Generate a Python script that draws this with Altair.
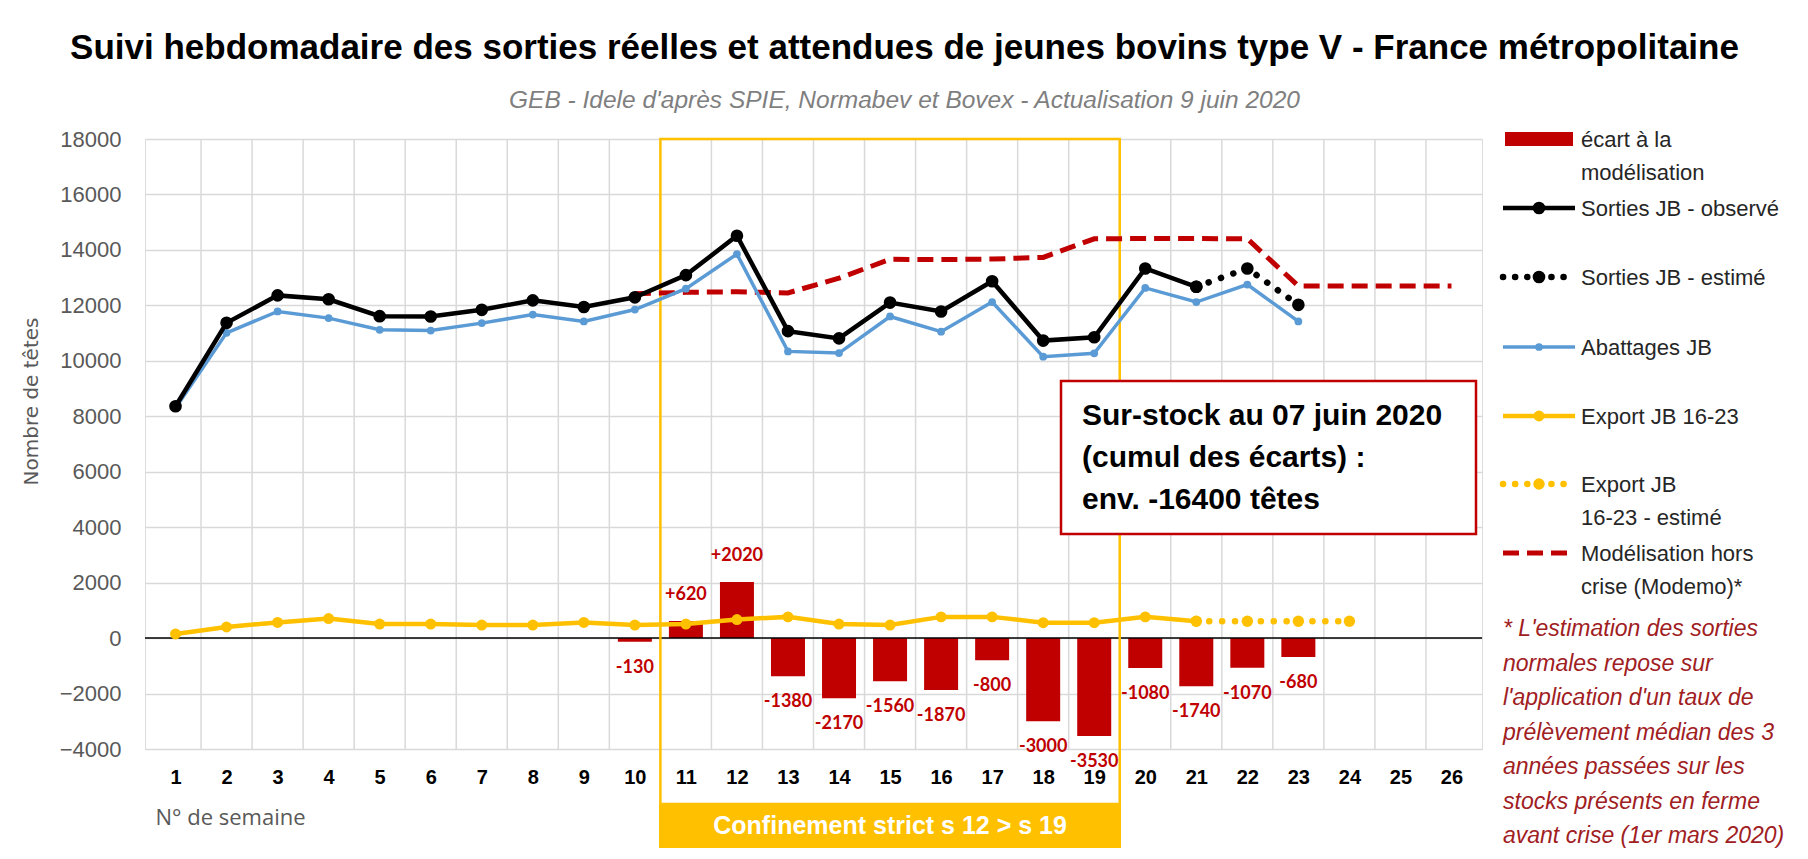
import altair as alt
import pandas as pd

# ---------------- data ----------------
weeks = list(range(1, 27))
y_ticks = list(range(-4000, 18001, 2000))

sorties_obs_weeks = list(range(1, 22))
sorties_obs = [8360, 11370, 12360, 12220, 11610, 11600, 11840, 12180, 11940, 12290,
               13090, 14510, 11070, 10810, 12100, 11780, 12870, 10730, 10850, 13330, 12670]

sorties_est_weeks = [21, 22, 23]
sorties_est = [12670, 13330, 12020]

abattages_weeks = list(range(1, 24))
abattages = [8300, 11010, 11780, 11540, 11120, 11090, 11360, 11670, 11420, 11850,
             12600, 13850, 10340, 10280, 11600, 11050, 12120, 10150, 10270, 12630,
             12120, 12750, 11420]

export_weeks = list(range(1, 22))
export = [150, 400, 565, 705, 505, 505, 470, 470, 565, 470,
          505, 670, 765, 505, 470, 765, 765, 555, 555, 765, 610]

export_est_weeks = [21, 22, 23, 24]
export_est = [610, 610, 610, 610]

modele_weeks = list(range(10, 27))
modele = [12420, 12470, 12490, 12450, 12980, 13660, 13650, 13670, 13730, 14400,
          14410, 14410, 14400, 12700, 12700, 12700, 12700]

ecart_weeks = list(range(10, 24))
ecart = [-130, 620, 2020, -1380, -2170, -1560, -1870, -800, -3000, -3530,
         -1080, -1740, -1070, -680]

lockdown_weeks = [11, 19]

title_text = ("Suivi hebdomadaire des sorties réelles et attendues de jeunes bovins "
              "type V - France métropolitaine")
subtitle_text = "GEB - Idele d'après SPIE, Normabev et Bovex - Actualisation 9 juin 2020"
y_title = "Nombre de têtes"
x_title = "N° de semaine"
legend_labels = ["écart à la\nmodélisation", "Sorties JB - observé", "Sorties JB - estimé",
                 "Abattages JB", "Export JB 16-23", "Export JB\n16-23 - estimé",
                 "Modélisation hors\ncrise (Modemo)*"]
box_text = "Sur-stock au 07 juin 2020\n(cumul des écarts) :\nenv. -16400 têtes"
lockdown_text = "Confinement strict s 12 > s 19"
footnote = ("* L'estimation des sorties\nnormales repose sur\nl'application d'un taux de\n"
            "prélèvement médian des 3\nannées passées sur les\nstocks présents en ferme\n"
            "avant crise (1er mars 2020)")

# ---------------- layout ----------------
W, H = 1337, 610
PAD_L, PAD_T, PAD_R = 137, 131, 318
TOTAL_H = 840
PAD_B = TOTAL_H - PAD_T - H

RED = "#C00000"
YEL = "#FFC000"
BLUE = "#5B9BD5"
GRID = "#D9D9D9"
SANS = "Liberation Sans"

xscale = alt.Scale(domain=[0.5, 26.5], nice=False, zero=False)
yscale = alt.Scale(domain=[-4000, 18000], nice=False, zero=False)

xaxis = alt.Axis(values=weeks, grid=False, domain=False, ticks=False, tickSize=0,
                 labelFont=SANS, labelFontWeight="bold", labelFontSize=20,
                 labelColor="black", labelAngle=0, labelBaseline="middle",
                 labelPadding=28, format="d",
                 title=x_title, titleFont="Open Sans", titleFontSize=22,
                 titleFontWeight="normal", titleColor="#595959",
                 titleX=10, titleY=68, titleAlign="left", titleBaseline="middle")
yaxis = alt.Axis(values=y_ticks, grid=True, gridColor=GRID, gridWidth=1.5,
                 domain=False, ticks=False, tickSize=0,
                 labelFont=SANS, labelFontSize=22, labelColor="#595959",
                 labelPadding=24, format="d",
                 title=y_title, titleFont="DejaVu Sans", titleFontSize=20,
                 titleFontWeight="normal", titleColor="#595959",
                 titleX=-114, titleY=262, titleAngle=270, titleAlign="center",
                 titleBaseline="middle")


def X(field):
    return alt.X(field, type="quantitative", scale=xscale, axis=xaxis)


def Y(field):
    return alt.Y(field, type="quantitative", scale=yscale, axis=yaxis)


one = pd.DataFrame({"k": [0]})

df_grid = pd.DataFrame({"b": [w + 0.5 for w in weeks[:-1]]})
df_ecart = pd.DataFrame({"week": ecart_weeks, "v": ecart,
                         "label": [f"{v:+d}" if v > 0 else str(v) for v in ecart]})
df_sobs = pd.DataFrame({"week": sorties_obs_weeks, "v": sorties_obs})
df_sest = pd.DataFrame({"week": sorties_est_weeks, "v": sorties_est})
df_ab = pd.DataFrame({"week": abattages_weeks, "v": abattages})
df_ex = pd.DataFrame({"week": export_weeks, "v": export})
df_exe = pd.DataFrame({"week": export_est_weeks, "v": export_est})
df_mod = pd.DataFrame({"week": modele_weeks, "v": modele})
df_lock = pd.DataFrame({"start": [lockdown_weeks[0] - 0.5], "end": [lockdown_weeks[1] + 0.5],
                        "mid": [(lockdown_weeks[0] + lockdown_weeks[1]) / 2]})

layers = []

# vertical grid lines at week boundaries
layers.append(alt.Chart(df_grid).mark_rule(color=GRID, strokeWidth=1.5).encode(
    x=X("b"), y=alt.value(0), y2=alt.value(H)))

# bars
layers.append(alt.Chart(df_ecart).mark_bar(size=34, color=RED).encode(
    x=X("week"), y=Y("v"), y2=alt.datum(0)))

# zero line
layers.append(alt.Chart(one).mark_rule(color="black", strokeWidth=1.5).encode(
    y=alt.datum(0)))

# bar labels
lab = dict(font="Lato", fontWeight="bold", fontSize=18, color=RED, baseline="middle")
layers.append(alt.Chart(df_ecart).transform_filter("datum.v > 0").mark_text(dy=-26, **lab).encode(
    x=X("week"), y=Y("v"), text="label:N"))
layers.append(alt.Chart(df_ecart).transform_filter("datum.v <= 0").mark_text(dy=26, **lab).encode(
    x=X("week"), y=Y("v"), text="label:N"))

# lockdown outline
LOCK_BOTTOM = TOTAL_H - PAD_T - 1
layers.append(alt.Chart(df_lock).mark_rect(fillOpacity=0, stroke=YEL, strokeWidth=2.5).encode(
    x=X("start"), x2="end", y=alt.value(0), y2=alt.value(LOCK_BOTTOM)))

# export observed
layers.append(alt.Chart(df_ex).mark_line(color=YEL, strokeWidth=4.5).encode(x=X("week"), y=Y("v")))
layers.append(alt.Chart(df_ex).mark_circle(color=YEL, size=120, opacity=1).encode(x=X("week"), y=Y("v")))
# export estimated
layers.append(alt.Chart(df_exe).mark_line(color=YEL, strokeWidth=6.5, strokeDash=[0.1, 12.8],
                                          strokeCap="round").encode(x=X("week"), y=Y("v")))
layers.append(alt.Chart(df_exe).mark_circle(color=YEL, size=130, opacity=1).encode(x=X("week"), y=Y("v")))

# model (dashed)
layers.append(alt.Chart(df_mod).mark_line(color=RED, strokeWidth=5, strokeDash=[16, 8]).encode(
    x=X("week"), y=Y("v")))

# abattages
layers.append(alt.Chart(df_ab).mark_line(color=BLUE, strokeWidth=3.5).encode(x=X("week"), y=Y("v")))
layers.append(alt.Chart(df_ab).mark_circle(color=BLUE, size=60, opacity=1).encode(x=X("week"), y=Y("v")))

# sorties observed
layers.append(alt.Chart(df_sobs).mark_line(color="black", strokeWidth=4.5).encode(x=X("week"), y=Y("v")))
layers.append(alt.Chart(df_sobs).mark_circle(color="black", size=160, opacity=1).encode(x=X("week"), y=Y("v")))
# sorties estimated
layers.append(alt.Chart(df_sest).mark_line(color="black", strokeWidth=6.5, strokeDash=[0.1, 13],
                                           strokeCap="round").encode(x=X("week"), y=Y("v")))
layers.append(alt.Chart(df_sest).mark_circle(color="black", size=160, opacity=1).encode(x=X("week"), y=Y("v")))

# annotation box
BX0, BX1, BY0, BY1 = 916, 1331, 242, 395
layers.append(alt.Chart(one).mark_rect(fill="white", stroke=RED, strokeWidth=2.5).encode(
    x=alt.value(BX0), x2=alt.value(BX1), y=alt.value(BY0), y2=alt.value(BY1)))
layers.append(alt.Chart(one).mark_text(align="left", baseline="alphabetic", font=SANS,
                                       fontWeight="bold", fontSize=30, color="black",
                                       lineBreak="\n", lineHeight=42).encode(
    x=alt.value(BX0 + 21), y=alt.value(286), text=alt.value(box_text)))

# lockdown label box
LB_TOP = 665
layers.append(alt.Chart(df_lock).mark_rect(fill=YEL, stroke=YEL, strokeWidth=2.5).encode(
    x=X("start"), x2="end", y=alt.value(LB_TOP), y2=alt.value(LOCK_BOTTOM)))
layers.append(alt.Chart(df_lock).mark_text(font=SANS, fontWeight="bold", fontSize=25,
                                           color="white", baseline="middle").encode(
    x=X("mid"), y=alt.value((LB_TOP + LOCK_BOTTOM) / 2), text=alt.value(lockdown_text)))

# custom legend
LX0, LX1, LXM, LTX = 1358, 1430, 1394, 1436
ly = [0, 69, 138, 208, 277, 345, 414]
leg_text = dict(align="left", baseline="alphabetic", font=SANS, fontSize=22,
                color="#262626", lineBreak="\n", lineHeight=33)


def leg_line(y, color, width, dash=None, cap="butt", msize=None):
    kw = dict(color=color, strokeWidth=width, strokeCap=cap)
    if dash is not None:
        kw["strokeDash"] = dash
    out = [alt.Chart(one).mark_rule(**kw).encode(
        x=alt.value(LX0), x2=alt.value(LX1), y=alt.value(y))]
    if msize is not None:
        out.append(alt.Chart(one).mark_circle(color=color, size=msize, opacity=1).encode(
            x=alt.value(LXM), y=alt.value(y)))
    return out


layers.append(alt.Chart(one).mark_rect(color=RED).encode(
    x=alt.value(LX0 + 2), x2=alt.value(LX1 - 2), y=alt.value(ly[0] - 7), y2=alt.value(ly[0] + 7)))
layers += leg_line(ly[1], "black", 4.5, msize=160)
layers += leg_line(ly[2], "black", 6.5, dash=[0.1, 12], cap="round", msize=160)
layers += leg_line(ly[3], BLUE, 3.5, msize=60)
layers += leg_line(ly[4], YEL, 4.5, msize=120)
layers += leg_line(ly[5], YEL, 6.5, dash=[0.1, 12], cap="round", msize=130)
layers += leg_line(ly[6], RED, 5, dash=[16, 8])
for lbl, yy in zip(legend_labels, ly):
    layers.append(alt.Chart(one).mark_text(**leg_text).encode(
        x=alt.value(LTX), y=alt.value(yy + 8), text=alt.value(lbl)))

# footnote
layers.append(alt.Chart(one).mark_text(align="left", baseline="alphabetic", font=SANS,
                                       fontSize=23, fontStyle="italic", color="#A0201F",
                                       lineBreak="\n", lineHeight=34.5).encode(
    x=alt.value(LX0), y=alt.value(497), text=alt.value(footnote)))

chart = alt.layer(*layers).properties(
    width=W, height=H,
    padding={"left": PAD_L, "top": PAD_T, "right": PAD_R, "bottom": PAD_B},
    autosize=alt.AutoSizeParams(type="none"),
    title=alt.TitleParams(text=title_text, subtitle=subtitle_text, anchor="middle",
                          frame="group", dx=91, offset=16, subtitlePadding=23,
                          font=SANS, fontSize=35, fontWeight="bold", color="black",
                          subtitleFont=SANS, subtitleFontSize=24.5,
                          subtitleFontStyle="italic", subtitleColor="#7F7F7F"),
).configure_view(stroke=GRID, strokeWidth=2).configure(background="white")

chart.save("out.html", embed_options={"renderer": "svg", "actions": False})
